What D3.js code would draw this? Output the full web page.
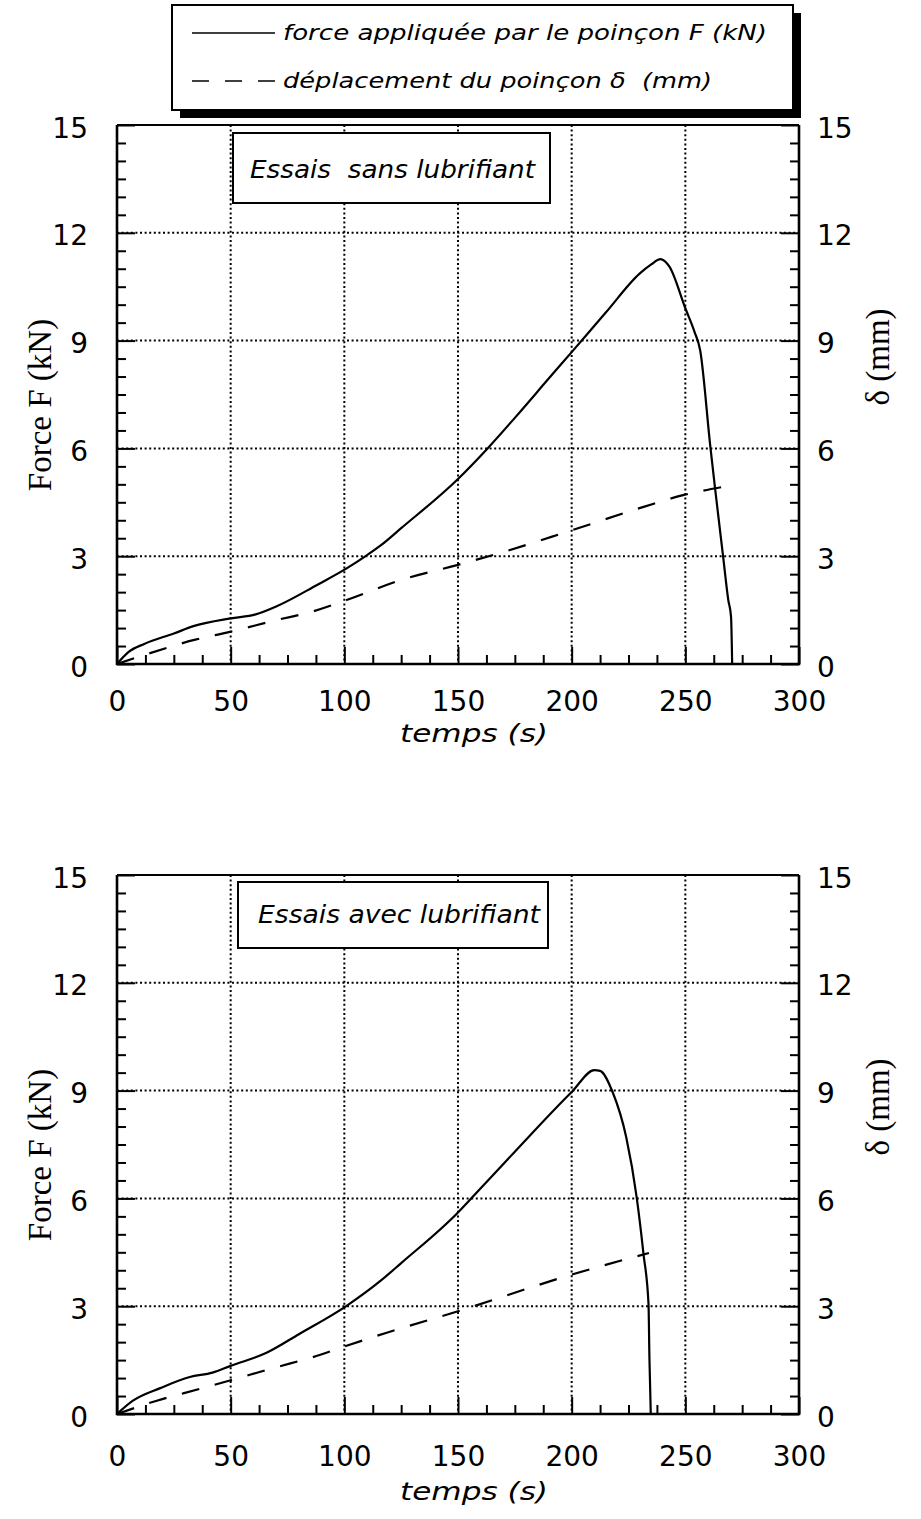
<!DOCTYPE html>
<html>
<head>
<meta charset="utf-8">
<script src="https://cdn.jsdelivr.net/npm/d3@7"></script>
<style>
  body { margin: 0; background: #fff; }
  svg { display: block; }
  text { white-space: pre; }
</style>
</head>
<body>
<svg id="chart"></svg>
<script>
// essai sans lubrifiant
const tempsF1 = [0, 5, 12, 25, 34, 50, 61, 70, 88, 101, 110, 116, 125, 150, 163, 175, 190, 200, 215, 230, 235, 239, 243, 250, 254, 256.5, 261, 263, 266.6, 268.9, 270.1, 270.6];
const force1  = [0, 0.33, 0.56, 0.85, 1.06, 1.27, 1.38, 1.6, 2.2, 2.66, 3.03, 3.3, 3.78, 5.15, 6.0, 6.85, 7.95, 8.68, 9.78, 10.87, 11.12, 11.27, 11.06, 9.9, 9.25, 8.74, 6.05, 4.93, 3.0, 1.78, 1.32, 0];
const tempsD1 = [0, 12, 34, 50, 70, 86, 101, 125, 150, 168, 199, 232, 249, 266.7];
const depl1   = [0, 0.25, 0.67, 0.9, 1.22, 1.46, 1.78, 2.34, 2.76, 3.08, 3.7, 4.38, 4.7, 4.93];

// essai avec lubrifiant
const tempsF2 = [0, 7, 19, 32, 42, 50, 66, 80, 101, 116, 125, 150, 157, 175, 200, 210, 212.5, 218, 224, 228.6, 231.6, 233.8, 234.2, 234.8];
const force2  = [0, 0.37, 0.72, 1.03, 1.15, 1.34, 1.71, 2.22, 3.01, 3.71, 4.2, 5.61, 6.08, 7.3, 8.96, 9.57, 9.55, 8.96, 7.7, 6.03, 4.45, 3.06, 1.57, 0];
const tempsD2 = [0, 17.5, 36.5, 50, 70, 86, 101, 119, 150, 200, 234];
const depl2   = [0, 0.37, 0.7, 0.94, 1.3, 1.58, 1.9, 2.27, 2.86, 3.88, 4.48];

const xMajor = [0, 50, 100, 150, 200, 250, 300];
const yMajor = [0, 3, 6, 9, 12, 15];
const legendLabels = ["force appliquée par le poinçon F (kN)", "déplacement du poinçon δ  (mm)"];
const titles = ["Essais  sans lubrifiant", "Essais avec lubrifiant"];

const width = 921;
const height = 1519;
const svg = d3.select("#chart")
    .attr("width", width)
    .attr("height", height);

const plotLeft = 117;
const plotW = 682;
const plotH = 539;

const x = d3.scaleLinear().domain([0, 300]).range([0, plotW]);
const y = d3.scaleLinear().domain([0, 15]).range([plotH, 0]);

const numFont = "'DejaVu Sans', sans-serif";
const serifFont = "'Liberation Serif', 'Times New Roman', serif";

// legend with shadow
const leg = svg.append("g");
leg.append("rect")
    .attr("x", 180).attr("y", 13).attr("width", 621).attr("height", 105)
    .attr("fill", "black");
leg.append("rect")
    .attr("x", 172).attr("y", 5).attr("width", 621).attr("height", 105)
    .attr("fill", "white").attr("stroke", "black").attr("stroke-width", 2);
leg.append("line")
    .attr("x1", 192).attr("x2", 275).attr("y1", 33).attr("y2", 33)
    .attr("stroke", "black").attr("stroke-width", 1.5);
leg.append("line")
    .attr("x1", 192).attr("x2", 275).attr("y1", 81).attr("y2", 81)
    .attr("stroke", "black").attr("stroke-width", 1.5)
    .attr("stroke-dasharray", "17,16");
leg.append("text")
    .attr("x", 283).attr("y", 40)
    .attr("textLength", 484).attr("lengthAdjust", "spacingAndGlyphs")
    .style("font-family", numFont).style("font-style", "italic").style("font-size", "22px")
    .text(legendLabels[0]);
leg.append("text")
    .attr("x", 283).attr("y", 88)
    .attr("textLength", 429).attr("lengthAdjust", "spacingAndGlyphs")
    .style("font-family", numFont).style("font-style", "italic").style("font-size", "22px")
    .text(legendLabels[1]);

const panels = [
    { top: 125, title: titles[0], box: [233, 133, 317, 70], titleX: 250, titleY: 178, titleLen: 285,
      tF: tempsF1, F: force1, tD: tempsD1, D: depl1, xLabY: 47, tempsY: 742 },
    { top: 875, title: titles[1], box: [238, 882, 310, 66], titleX: 258, titleY: 923, titleLen: 282,
      tF: tempsF2, F: force2, tD: tempsD2, D: depl2, xLabY: 52, tempsY: 1500 }
];

panels.forEach(p => drawPanel(p));

function drawPanel(p) {
    const g = svg.append("g")
        .attr("transform", `translate(${plotLeft},${p.top})`);

    // dotted grid
    g.append("g").selectAll("line")
        .data(xMajor.slice(1, -1))
        .join("line")
        .attr("x1", d => x(d)).attr("x2", d => x(d))
        .attr("y1", 0).attr("y2", plotH)
        .attr("stroke", "black").attr("stroke-width", 2)
        .attr("stroke-dasharray", "2,2.6");
    g.append("g").selectAll("line")
        .data(yMajor.slice(1, -1))
        .join("line")
        .attr("x1", 0).attr("x2", plotW)
        .attr("y1", d => y(d)).attr("y2", d => y(d))
        .attr("stroke", "black").attr("stroke-width", 2)
        .attr("stroke-dasharray", "2,2.6");

    const yMinor = d3.range(0, 15.01, 0.5).filter(v => v % 3 !== 0);
    const xMinor = d3.range(0, 300.1, 12.5).filter(v => v % 50 !== 0);

    // left axis
    g.append("g")
        .call(d3.axisRight(y).tickValues(yMinor).tickSize(9).tickFormat(""))
        .call(a => a.select(".domain").remove());
    g.append("g")
        .call(d3.axisLeft(y).tickValues(yMajor).tickSize(-18).tickPadding(29).tickFormat(d3.format("d")))
        .call(a => a.select(".domain").remove())
        .call(a => a.selectAll("text")
            .attr("dy", "12px")
            .style("font-family", numFont).style("font-size", "28px").attr("fill", "black"));

    // right axis
    g.append("g")
        .attr("transform", `translate(${plotW},0)`)
        .call(d3.axisLeft(y).tickValues(yMinor).tickSize(9).tickFormat(""))
        .call(a => a.select(".domain").remove());
    g.append("g")
        .attr("transform", `translate(${plotW},0)`)
        .call(d3.axisRight(y).tickValues(yMajor).tickSize(-18).tickPadding(18).tickFormat(d3.format("d")))
        .call(a => a.select(".domain").remove())
        .call(a => a.selectAll("text")
            .attr("dy", "12px")
            .style("font-family", numFont).style("font-size", "28px").attr("fill", "black"));

    // bottom axis
    g.append("g")
        .attr("transform", `translate(0,${plotH})`)
        .call(d3.axisTop(x).tickValues(xMinor).tickSize(9).tickFormat(""))
        .call(a => a.select(".domain").remove());
    g.append("g")
        .attr("transform", `translate(0,${plotH})`)
        .call(d3.axisBottom(x).tickValues(xMajor).tickSize(-17).tickPadding(p.xLabY).tickFormat(d3.format("d")))
        .call(a => a.select(".domain").remove())
        .call(a => a.selectAll("text")
            .attr("dy", "0")
            .style("font-family", numFont).style("font-size", "28px").attr("fill", "black"));

    g.selectAll(".tick line").attr("stroke", "black").attr("stroke-width", 2);

    // frame
    g.append("path")
        .attr("d", `M0,0V${plotH}H${plotW}V0`)
        .attr("fill", "none").attr("stroke", "black").attr("stroke-width", 2.6);
    g.append("line")
        .attr("x1", 0).attr("x2", plotW).attr("y1", 0).attr("y2", 0)
        .attr("stroke", "black").attr("stroke-width", 1.8);

    // curves
    const forceLine = d3.line()
        .x((d, i) => x(p.tF[i]))
        .y(d => y(d))
        .curve(d3.curveMonotoneX);
    g.append("path")
        .datum(p.F)
        .attr("d", forceLine)
        .attr("fill", "none").attr("stroke", "black").attr("stroke-width", 2.2);

    const deplLine = d3.line()
        .x((d, i) => x(p.tD[i]))
        .y(d => y(d))
        .curve(d3.curveMonotoneX);
    g.append("path")
        .datum(p.D)
        .attr("d", deplLine)
        .attr("fill", "none").attr("stroke", "black").attr("stroke-width", 2.2)
        .attr("stroke-dasharray", "18,16");

    // title box
    svg.append("rect")
        .attr("x", p.box[0]).attr("y", p.box[1]).attr("width", p.box[2]).attr("height", p.box[3])
        .attr("fill", "white").attr("stroke", "black").attr("stroke-width", 2);
    svg.append("text")
        .attr("x", p.titleX).attr("y", p.titleY)
        .attr("textLength", p.titleLen).attr("lengthAdjust", "spacingAndGlyphs")
        .style("font-family", numFont).style("font-style", "italic").style("font-size", "25px")
        .text(p.title);

    // axis titles
    svg.append("text")
        .attr("transform", `translate(51,${p.top + 280}) rotate(-90)`)
        .attr("text-anchor", "middle")
        .style("font-family", serifFont).style("font-size", "33px")
        .text("Force F (kN)");
    svg.append("text")
        .attr("transform", `translate(889,${p.top + 232}) rotate(-90)`)
        .attr("text-anchor", "middle")
        .style("font-family", serifFont).style("font-size", "33px")
        .text("δ (mm)");
    svg.append("text")
        .attr("x", 400).attr("y", p.tempsY)
        .attr("textLength", 148).attr("lengthAdjust", "spacingAndGlyphs")
        .style("font-family", numFont).style("font-style", "italic").style("font-size", "25px")
        .text("temps (s)");
}
</script>
</body>
</html>
